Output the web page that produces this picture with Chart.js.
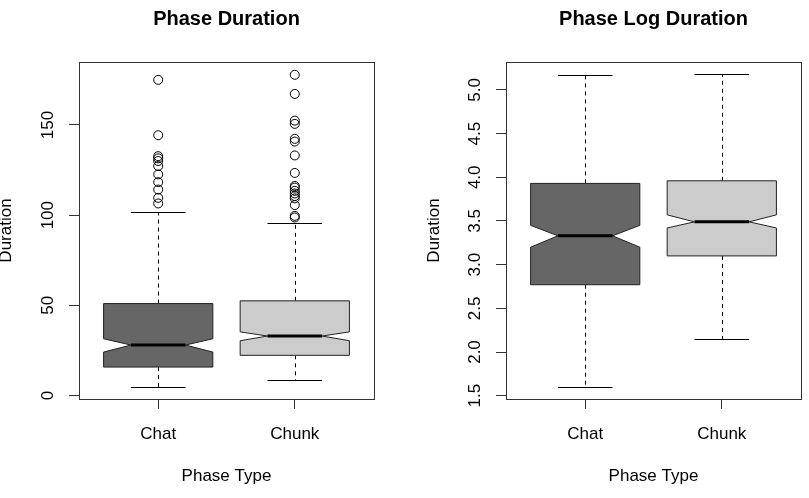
<!DOCTYPE html>
<html>
<head>
<meta charset="utf-8">
<script src="https://cdn.jsdelivr.net/npm/chart.js@4.4.1/dist/chart.umd.min.js"></script>
<style>
  html, body { margin: 0; padding: 0; background: #fff; overflow: hidden; }
  body { width: 809px; height: 498px; position: relative; }
  canvas { position: absolute; top: 0; }
  #durChart { left: -20px; }
  #logChart { left: 404px; }
</style>
</head>
<body>
<canvas id="durChart" width="424" height="498"></canvas>
<canvas id="logChart" width="405" height="498"></canvas>
<script>
const categories = ['Chat', 'Chunk'];
const boxColors = ['#666666', '#cccccc'];

// Phase Duration (minutes)
const durLowWhisker = [4.8, 8.5];
const durQ1 = [15.8, 22.3];
const durNotchLow = [24.1, 30.4];
const durMedian = [28.0, 33.0];
const durNotchHigh = [31.5, 35.3];
const durQ3 = [51.0, 52.5];
const durHighWhisker = [101.6, 95.5];
const durOutliersChat = [175.0, 144.3, 132.7, 131.5, 130.0, 127.2, 122.6, 118.3, 114.2, 109.6, 106.5];
const durOutliersChunk = [177.8, 167.2, 152.4, 150.6, 142.3, 140.8, 133.1, 123.4, 116.2, 115.3, 113.5, 112.0, 110.6, 109.3, 105.6, 99.6, 98.7];
const durTicks = [0, 50, 100, 150];

// Phase Log Duration
const logLowWhisker = [1.60, 2.15];
const logQ1 = [2.77, 3.10];
const logNotchLow = [3.20, 3.42];
const logMedian = [3.33, 3.49];
const logNotchHigh = [3.45, 3.57];
const logQ3 = [3.93, 3.96];
const logHighWhisker = [5.17, 5.18];
const logTicks = [1.5, 2.0, 2.5, 3.0, 3.5, 4.0, 4.5, 5.0];

const FONT = "'Liberation Sans', Arial, Helvetica, sans-serif";

// draws R-style notched boxes through the chart scales
const notchBoxPlugin = {
  id: 'notchBox',
  beforeDatasetsDraw(chart, args, opts) {
    const ctx = chart.ctx;
    const xs = chart.scales.x, ys = chart.scales.y;
    const s = opts.stats;
    ctx.save();
    for (let i = 0; i < categories.length; i++) {
      const c = i + 1;
      const xl = xs.getPixelForValue(c - 0.4), xr = xs.getPixelForValue(c + 0.4);
      const xml = xs.getPixelForValue(c - 0.2), xmr = xs.getPixelForValue(c + 0.2);
      const xc = xs.getPixelForValue(c);
      const y = v => ys.getPixelForValue(v);

      // whiskers
      ctx.strokeStyle = '#000';
      ctx.lineWidth = 1;
      ctx.setLineDash([4, 4]);
      ctx.beginPath();
      ctx.moveTo(Math.round(xc) + 0.5, y(s.q3[i]));
      ctx.lineTo(Math.round(xc) + 0.5, y(s.hi[i]));
      ctx.moveTo(Math.round(xc) + 0.5, y(s.q1[i]));
      ctx.lineTo(Math.round(xc) + 0.5, y(s.lo[i]));
      ctx.stroke();
      ctx.setLineDash([]);
      ctx.beginPath();
      ctx.moveTo(xml, Math.round(y(s.hi[i])) + 0.5);
      ctx.lineTo(xmr, Math.round(y(s.hi[i])) + 0.5);
      ctx.moveTo(xml, Math.round(y(s.lo[i])) + 0.5);
      ctx.lineTo(xmr, Math.round(y(s.lo[i])) + 0.5);
      ctx.stroke();

      // notched box
      ctx.beginPath();
      ctx.moveTo(xl, y(s.q1[i]));
      ctx.lineTo(xl, y(s.nlo[i]));
      ctx.lineTo(xml, y(s.med[i]));
      ctx.lineTo(xl, y(s.nhi[i]));
      ctx.lineTo(xl, y(s.q3[i]));
      ctx.lineTo(xr, y(s.q3[i]));
      ctx.lineTo(xr, y(s.nhi[i]));
      ctx.lineTo(xmr, y(s.med[i]));
      ctx.lineTo(xr, y(s.nlo[i]));
      ctx.lineTo(xr, y(s.q1[i]));
      ctx.closePath();
      ctx.fillStyle = boxColors[i];
      ctx.fill();
      ctx.strokeStyle = '#222';
      ctx.stroke();

      // median
      ctx.beginPath();
      ctx.lineWidth = 3;
      ctx.strokeStyle = '#000';
      ctx.moveTo(xml, y(s.med[i]));
      ctx.lineTo(xmr, y(s.med[i]));
      ctx.stroke();
    }
    ctx.restore();
  },
  afterDraw(chart) {
    const a = chart.chartArea, ctx = chart.ctx;
    ctx.save();
    ctx.strokeStyle = '#333';
    ctx.lineWidth = 1;
    ctx.strokeRect(Math.round(a.left) + 0.5, Math.round(a.top) + 0.5,
      Math.round(a.right - a.left), Math.round(a.bottom - a.top));
    ctx.restore();
  }
};

function outlierSet(values, c) {
  return {
    data: values.map(v => ({ x: c, y: v })),
    pointStyle: 'circle',
    pointRadius: 4.5,
    pointBackgroundColor: 'rgba(0,0,0,0)',
    pointBorderColor: '#000',
    pointBorderWidth: 1
  };
}

function makeChart(id, cfg) {
  return new Chart(document.getElementById(id), {
    type: 'scatter',
    data: { datasets: cfg.datasets },
    options: {
      responsive: false,
      animation: false,
      devicePixelRatio: 1,
      layout: { padding: { left: 0, right: cfg.padRight, top: 0, bottom: 0 } },
      plugins: {
        legend: { display: false },
        tooltip: { enabled: false },
        title: {
          display: true,
          text: cfg.title,
          fullSize: false,
          color: '#000',
          font: { family: FONT, size: 20, weight: 'bold', lineHeight: 1.2 },
          padding: { top: 7, bottom: 31 }
        },
        notchBox: { stats: cfg.stats }
      },
      scales: {
        x: {
          type: 'linear',
          min: 0.42,
          max: 2.58,
          afterBuildTicks: s => { s.ticks = categories.map((c, i) => ({ value: i + 1 })); },
          afterFit: s => { s.height = 99; },
          ticks: {
            callback: v => categories[v - 1],
            color: '#000',
            font: { family: FONT, size: 17 },
            padding: 15,
            maxRotation: 0
          },
          grid: { drawOnChartArea: false, drawTicks: true, tickLength: 10, color: '#333' },
          border: { display: false },
          title: {
            display: true,
            text: 'Phase Type',
            color: '#000',
            font: { family: FONT, size: 17, lineHeight: 1.2 },
            padding: { top: 0, bottom: 11 }
          }
        },
        y: {
          type: 'linear',
          min: cfg.yMin,
          max: cfg.yMax,
          afterBuildTicks: s => { s.ticks = cfg.ticks.map(v => ({ value: v })); },
          afterFit: s => { s.width = cfg.yWidth; },
          ticks: {
            callback: cfg.tickLabel,
            color: '#000',
            font: { family: FONT, size: 17 },
            minRotation: 90,
            maxRotation: 90,
            crossAlign: 'center',
            padding: cfg.tickPad
          },
          grid: { drawOnChartArea: false, drawTicks: true, tickLength: 10, color: '#333' },
          border: { display: false },
          title: {
            display: true,
            text: 'Duration',
            color: '#000',
            font: { family: FONT, size: 17, lineHeight: 1.2 },
            padding: { top: cfg.titlePad, bottom: 0 }
          }
        }
      }
    },
    plugins: [notchBoxPlugin]
  });
}

makeChart('durChart', {
  title: 'Phase Duration',
  datasets: [outlierSet(durOutliersChat, 1), outlierSet(durOutliersChunk, 2)],
  stats: { lo: durLowWhisker, q1: durQ1, nlo: durNotchLow, med: durMedian, nhi: durNotchHigh, q3: durQ3, hi: durHighWhisker },
  yMin: -1.9, yMax: 184.9,
  ticks: durTicks,
  tickLabel: v => String(v),
  yWidth: 99, padRight: 30, tickPad: 7, titlePad: 16.5
});

makeChart('logChart', {
  title: 'Phase Log Duration',
  datasets: [],
  stats: { lo: logLowWhisker, q1: logQ1, nlo: logNotchLow, med: logMedian, nhi: logNotchHigh, q3: logQ3, hi: logHighWhisker },
  yMin: 1.462, yMax: 5.32,
  ticks: logTicks,
  tickLabel: v => v.toFixed(1),
  yWidth: 102, padRight: 8, tickPad: 9, titlePad: 20
});
</script>
</body>
</html>
